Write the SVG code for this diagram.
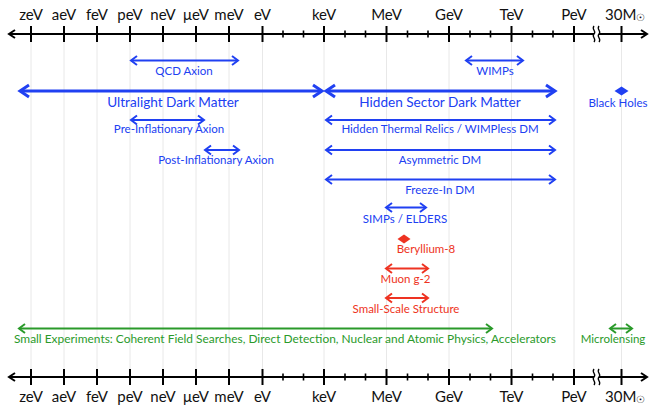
<svg xmlns="http://www.w3.org/2000/svg" width="651" height="406" viewBox="0 0 651 406">
<style>
  text { font-family: Lato, "Open Sans", "Liberation Sans", sans-serif; }
  .ax { font-size: 15px; fill: #111; text-anchor: middle; }
  .sm { font-size: 11.5px; text-anchor: middle; }
  .lg { font-size: 13.6px; text-anchor: middle; }
  .b { fill: #2040f2; }
  .r { fill: #ee3322; }
  .g { fill: #2a9a2a; }
  .grid line { stroke: #e2e2e2; stroke-width: 0.8; }
  .axis line, .axis path { stroke: #000; fill: none; }
  .maj { stroke-width: 2; }
  .min { stroke-width: 1.6; }
  .thin { stroke-width: 2; fill: none; }
  .thick { stroke-width: 3; fill: none; }
</style>
<defs>
  <marker id="mAx" markerUnits="userSpaceOnUse" orient="auto-start-reverse" overflow="visible" refX="0" refY="0" markerWidth="10" markerHeight="10">
    <path d="M-6,-4 L0,0 L-6,4" fill="none" stroke="#000" stroke-width="2"/>
  </marker>
  <marker id="mB" markerUnits="userSpaceOnUse" orient="auto-start-reverse" overflow="visible" refX="0" refY="0" markerWidth="10" markerHeight="10">
    <path d="M-6,-4.5 L0,0 L-6,4.5" fill="none" stroke="#2040f2" stroke-width="2"/>
  </marker>
  <marker id="mBT" markerUnits="userSpaceOnUse" orient="auto-start-reverse" overflow="visible" refX="0" refY="0" markerWidth="12" markerHeight="12">
    <path d="M-9,-6 L0,0 L-9,6" fill="none" stroke="#2040f2" stroke-width="3"/>
  </marker>
  <marker id="mR" markerUnits="userSpaceOnUse" orient="auto-start-reverse" overflow="visible" refX="0" refY="0" markerWidth="10" markerHeight="10">
    <path d="M-6,-4.5 L0,0 L-6,4.5" fill="none" stroke="#ee3322" stroke-width="2"/>
  </marker>
  <marker id="mG" markerUnits="userSpaceOnUse" orient="auto-start-reverse" overflow="visible" refX="0" refY="0" markerWidth="10" markerHeight="10">
    <path d="M-6,-4.5 L0,0 L-6,4.5" fill="none" stroke="#2a9a2a" stroke-width="2"/>
  </marker>
</defs>

<g id="grid" class="grid">
  <line x1="31" y1="42" x2="31" y2="369"/>
  <line x1="64" y1="42" x2="64" y2="369"/>
  <line x1="97" y1="42" x2="97" y2="369"/>
  <line x1="130" y1="42" x2="130" y2="369"/>
  <line x1="163" y1="42" x2="163" y2="369"/>
  <line x1="196" y1="42" x2="196" y2="369"/>
  <line x1="229" y1="42" x2="229" y2="369"/>
  <line x1="262.5" y1="42" x2="262.5" y2="369"/>
  <line x1="324" y1="42" x2="324" y2="369"/>
  <line x1="386.5" y1="42" x2="386.5" y2="369"/>
  <line x1="449" y1="42" x2="449" y2="369"/>
  <line x1="511.5" y1="42" x2="511.5" y2="369"/>
  <line x1="574" y1="42" x2="574" y2="369"/>
  <line x1="621.5" y1="42" x2="621.5" y2="369"/>
</g>

<g id="axis-top" class="axis">
  <line x1="9" y1="34" x2="647" y2="34" stroke-width="2" marker-start="url(#mAx)" marker-end="url(#mAx)"/>
  <g class="maj">
    <line x1="31" y1="26" x2="31" y2="42"/><line x1="64" y1="26" x2="64" y2="42"/><line x1="97" y1="26" x2="97" y2="42"/>
    <line x1="130" y1="26" x2="130" y2="42"/><line x1="163" y1="26" x2="163" y2="42"/><line x1="196" y1="26" x2="196" y2="42"/>
    <line x1="229" y1="26" x2="229" y2="42"/><line x1="262.5" y1="26" x2="262.5" y2="42"/><line x1="324" y1="26" x2="324" y2="42"/>
    <line x1="386.5" y1="26" x2="386.5" y2="42"/><line x1="449" y1="26" x2="449" y2="42"/><line x1="511.5" y1="26" x2="511.5" y2="42"/>
    <line x1="574" y1="26" x2="574" y2="42"/><line x1="621.5" y1="26" x2="621.5" y2="42"/>
  </g>
  <g class="min">
    <line x1="283" y1="30.5" x2="283" y2="37.5"/><line x1="303.5" y1="30.5" x2="303.5" y2="37.5"/>
    <line x1="345" y1="30.5" x2="345" y2="37.5"/><line x1="365.5" y1="30.5" x2="365.5" y2="37.5"/>
    <line x1="407.5" y1="30.5" x2="407.5" y2="37.5"/><line x1="428" y1="30.5" x2="428" y2="37.5"/>
    <line x1="470" y1="30.5" x2="470" y2="37.5"/><line x1="490.5" y1="30.5" x2="490.5" y2="37.5"/>
    <line x1="532.5" y1="30.5" x2="532.5" y2="37.5"/><line x1="553" y1="30.5" x2="553" y2="37.5"/>
  </g>
  <rect x="594" y="30" width="5" height="8" fill="#fff"/>
  <path d="M594,26 C591,30 597,31 594,34 C591,37 597,38 594,42" stroke-width="1.3"/>
  <path d="M599,26 C596,30 602,31 599,34 C596,37 602,38 599,42" stroke-width="1.3"/>
  <g class="ax">
    <text x="31" y="20">zeV</text><text x="64" y="20">aeV</text><text x="97" y="20">feV</text>
    <text x="130" y="20">peV</text><text x="163" y="20">neV</text><text x="196" y="20">μeV</text>
    <text x="229" y="20">meV</text><text x="262.5" y="20">eV</text><text x="324" y="20">keV</text>
    <text x="386.5" y="20">MeV</text><text x="449" y="20">GeV</text><text x="511.5" y="20">TeV</text>
    <text x="574" y="20">PeV</text>
    <text x="605" y="20" style="text-anchor:start">30M<tspan font-size="10" dy="1">☉</tspan></text>
  </g>
</g>

<g id="axis-bottom" class="axis">
  <line x1="9" y1="377" x2="647" y2="377" stroke-width="2" marker-start="url(#mAx)" marker-end="url(#mAx)"/>
  <g class="maj">
    <line x1="31" y1="369" x2="31" y2="385"/><line x1="64" y1="369" x2="64" y2="385"/><line x1="97" y1="369" x2="97" y2="385"/>
    <line x1="130" y1="369" x2="130" y2="385"/><line x1="163" y1="369" x2="163" y2="385"/><line x1="196" y1="369" x2="196" y2="385"/>
    <line x1="229" y1="369" x2="229" y2="385"/><line x1="262.5" y1="369" x2="262.5" y2="385"/><line x1="324" y1="369" x2="324" y2="385"/>
    <line x1="386.5" y1="369" x2="386.5" y2="385"/><line x1="449" y1="369" x2="449" y2="385"/><line x1="511.5" y1="369" x2="511.5" y2="385"/>
    <line x1="574" y1="369" x2="574" y2="385"/><line x1="621.5" y1="369" x2="621.5" y2="385"/>
  </g>
  <g class="min">
    <line x1="283" y1="373.5" x2="283" y2="380.5"/><line x1="303.5" y1="373.5" x2="303.5" y2="380.5"/>
    <line x1="345" y1="373.5" x2="345" y2="380.5"/><line x1="365.5" y1="373.5" x2="365.5" y2="380.5"/>
    <line x1="407.5" y1="373.5" x2="407.5" y2="380.5"/><line x1="428" y1="373.5" x2="428" y2="380.5"/>
    <line x1="470" y1="373.5" x2="470" y2="380.5"/><line x1="490.5" y1="373.5" x2="490.5" y2="380.5"/>
    <line x1="532.5" y1="373.5" x2="532.5" y2="380.5"/><line x1="553" y1="373.5" x2="553" y2="380.5"/>
  </g>
  <rect x="594" y="373" width="5" height="8" fill="#fff"/>
  <path d="M594,369 C591,373 597,374 594,377 C591,380 597,381 594,385" stroke-width="1.3"/>
  <path d="M599,369 C596,373 602,374 599,377 C596,380 602,381 599,385" stroke-width="1.3"/>
  <g class="ax">
    <text x="31" y="402">zeV</text><text x="64" y="402">aeV</text><text x="97" y="402">feV</text>
    <text x="130" y="402">peV</text><text x="163" y="402">neV</text><text x="196" y="402">μeV</text>
    <text x="229" y="402">meV</text><text x="262.5" y="402">eV</text><text x="324" y="402">keV</text>
    <text x="386.5" y="402">MeV</text><text x="449" y="402">GeV</text><text x="511.5" y="402">TeV</text>
    <text x="574" y="402">PeV</text>
    <text x="605" y="402" style="text-anchor:start">30M<tspan font-size="10" dy="1">☉</tspan></text>
  </g>
</g>

<g id="connectors">
  <line x1="131" y1="60.5" x2="238" y2="60.5" class="thin" stroke="#2040f2" marker-start="url(#mB)" marker-end="url(#mB)"/>
  <line x1="466" y1="60.5" x2="523" y2="60.5" class="thin" stroke="#2040f2" marker-start="url(#mB)" marker-end="url(#mB)"/>
  <line x1="20" y1="91" x2="322" y2="91" class="thick" stroke="#2040f2" marker-start="url(#mBT)" marker-end="url(#mBT)"/>
  <line x1="326" y1="91" x2="555" y2="91" class="thick" stroke="#2040f2" marker-start="url(#mBT)" marker-end="url(#mBT)"/>
  <line x1="131" y1="120" x2="204" y2="120" class="thin" stroke="#2040f2" marker-start="url(#mB)" marker-end="url(#mB)"/>
  <line x1="326" y1="120" x2="555" y2="120" class="thin" stroke="#2040f2" marker-start="url(#mB)" marker-end="url(#mB)"/>
  <line x1="205" y1="150" x2="239" y2="150" class="thin" stroke="#2040f2" marker-start="url(#mB)" marker-end="url(#mB)"/>
  <line x1="326" y1="150" x2="555" y2="150" class="thin" stroke="#2040f2" marker-start="url(#mB)" marker-end="url(#mB)"/>
  <line x1="326" y1="179.5" x2="555" y2="179.5" class="thin" stroke="#2040f2" marker-start="url(#mB)" marker-end="url(#mB)"/>
  <line x1="386" y1="207.5" x2="426" y2="207.5" class="thin" stroke="#2040f2" marker-start="url(#mB)" marker-end="url(#mB)"/>
  <line x1="386" y1="268.5" x2="428" y2="268.5" class="thin" stroke="#ee3322" marker-start="url(#mR)" marker-end="url(#mR)"/>
  <line x1="386" y1="298" x2="428" y2="298" class="thin" stroke="#ee3322" marker-start="url(#mR)" marker-end="url(#mR)"/>
  <line x1="19" y1="328.5" x2="492" y2="328.5" class="thin" stroke="#2a9a2a" marker-start="url(#mG)" marker-end="url(#mG)"/>
  <line x1="610" y1="328.5" x2="632" y2="328.5" class="thin" stroke="#2a9a2a" marker-start="url(#mG)" marker-end="url(#mG)"/>
</g>

<g id="qcd-axion"><text class="sm b" x="184" y="75">QCD Axion</text></g>
<g id="wimps"><text class="sm b" x="495" y="75">WIMPs</text></g>
<g id="ultralight"><text class="lg b" x="173" y="107">Ultralight Dark Matter</text></g>
<g id="hidden-sector"><text class="lg b" x="440" y="107">Hidden Sector Dark Matter</text></g>
<g id="black-holes">
  <path d="M621.5,86.5 L628.5,91 L621.5,95.5 L614.5,91 Z" fill="#2040f2"/>
  <text class="sm b" x="618" y="107">Black Holes</text>
</g>
<g id="pre-inflationary"><text class="sm b" x="169" y="133">Pre-Inflationary Axion</text></g>
<g id="hidden-thermal"><text class="sm b" x="440" y="133">Hidden Thermal Relics / WIMPless DM</text></g>
<g id="post-inflationary"><text class="sm b" x="216" y="164">Post-Inflationary Axion</text></g>
<g id="asymmetric"><text class="sm b" x="440" y="164">Asymmetric DM</text></g>
<g id="freeze-in"><text class="sm b" x="440" y="194">Freeze-In DM</text></g>
<g id="simps"><text class="sm b" x="405" y="222.5">SIMPs / ELDERS</text></g>
<g id="beryllium">
  <path d="M404,234.5 L410.5,239 L404,243.5 L397.5,239 Z" fill="#ee3322"/>
  <text class="sm r" x="426" y="252.5">Beryllium-8</text>
</g>
<g id="muon"><text class="sm r" x="405.5" y="282.5">Muon g-2</text></g>
<g id="small-scale"><text class="sm r" x="406" y="312.5">Small-Scale Structure</text></g>
<g id="small-experiments"><text class="sm g" x="14" y="343" style="text-anchor:start" textLength="542" lengthAdjust="spacingAndGlyphs">Small Experiments: Coherent Field Searches, Direct Detection, Nuclear and Atomic Physics, Accelerators</text></g>
<g id="microlensing"><text class="sm g" x="613" y="343">Microlensing</text></g>
</svg>
